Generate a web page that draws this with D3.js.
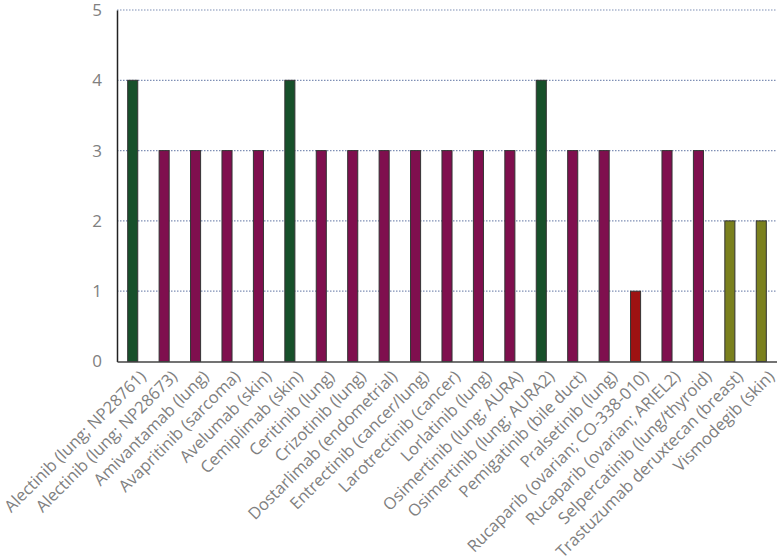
<!DOCTYPE html>
<html>
<head>
<meta charset="utf-8">
<script src="https://cdn.jsdelivr.net/npm/d3@7"></script>
<style>
  html, body { margin: 0; padding: 0; background: #fff; }
  svg { display: block; }
</style>
</head>
<body>
<svg id="chart" width="777" height="556"></svg>
<script>
const categories = [
  "Alectinib (lung; NP28761)",
  "Alectinib (lung; NP28673)",
  "Amivantamab (lung)",
  "Avapritinib (sarcoma)",
  "Avelumab (skin)",
  "Cemiplimab (skin)",
  "Ceritinib (lung)",
  "Crizotinib (lung)",
  "Dostarlimab (endometrial)",
  "Entrectinib (cancer/lung)",
  "Larotrectinib (cancer)",
  "Lorlatinib (lung)",
  "Osimertinib (lung; AURA)",
  "Osimertinib (lung; AURA2)",
  "Pemigatinib (bile duct)",
  "Pralsetinib (lung)",
  "Rucaparib (ovarian; CO-338-010)",
  "Rucaparib (ovarian; ARIEL2)",
  "Selpercatinib (lung/thyroid)",
  "Trastuzumab deruxtecan (breast)",
  "Vismodegib (skin)"
];
const values = [4,3,3,3,3,4,3,3,3,3,3,3,3,4,3,3,1,3,3,2,2];
const colorByValue = {4: "#17502a", 3: "#7f0f4e", 2: "#7a801e", 1: "#9e1212"};
const yTicks = [0,1,2,3,4,5];

const svg = d3.select("#chart");
const mLeft = 117, mRight = 777, mTop = 10, mBottom = 361.5;

const x = d3.scaleBand().domain(categories).range([mLeft, mRight]).paddingInner(0.68).paddingOuter(0.34);
const y = d3.scaleLinear().domain([0,5]).range([mBottom, mTop]);

// gridlines
svg.append("g").selectAll("line").data(yTicks.filter(d => d > 0)).join("line")
  .attr("x1", mLeft).attr("x2", mRight)
  .attr("y1", d => y(d)).attr("y2", d => y(d))
  .attr("stroke", "#7f8fb5").attr("stroke-width", 1.2)
  .attr("stroke-dasharray", "1.5,1.5");

// bars
svg.append("g").selectAll("rect").data(categories).join("rect")
  .attr("x", d => x(d))
  .attr("width", x.bandwidth())
  .attr("y", (d,i) => y(values[i]))
  .attr("height", (d,i) => mBottom - y(values[i]))
  .attr("fill", (d,i) => colorByValue[values[i]])
  .attr("stroke", "#333")
  .attr("stroke-width", 1);

// y axis
const yAxis = d3.axisLeft(y).tickValues(yTicks).tickSize(0).tickPadding(15).tickFormat(d3.format("d"));
const gy = svg.append("g").attr("transform", `translate(${mLeft},0)`).call(yAxis);
gy.select(".domain").attr("stroke", "#222").attr("stroke-width", 1.5);
gy.selectAll("text").attr("fill", "#808080").style("font-family", "'Open Sans', sans-serif").style("font-size", "17px");

// x axis
const xAxis = d3.axisBottom(x).tickSize(0).tickPadding(0);
const gx = svg.append("g").attr("transform", `translate(0,${mBottom})`).call(xAxis);
gx.select(".domain").attr("stroke", "#444").attr("stroke-width", 1.5);
gx.selectAll("text")
  .attr("fill", "#808080")
  .style("font-family", "'Open Sans', sans-serif")
  .style("font-size", "16.5px")
  .attr("text-anchor", "end")
  .attr("dy", "0.35em")
  .attr("transform", d => `translate(${x.bandwidth()/2 + 5},12) rotate(-45)`)
  .attr("y", 0).attr("x", 0);
</script>
</body>
</html>
